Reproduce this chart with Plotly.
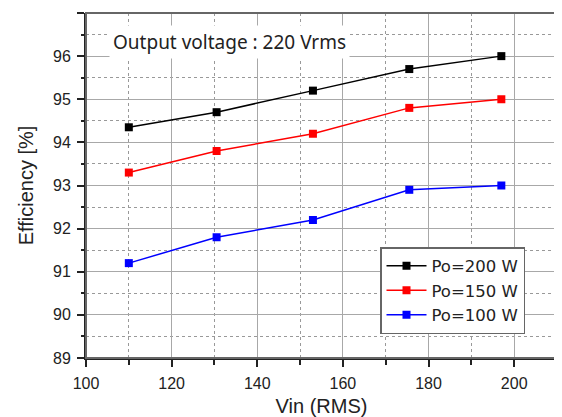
import plotly.graph_objects as go

vin = [110, 130.5, 153, 175.5, 197]
eff_200 = [94.35, 94.7, 95.2, 95.7, 96.0]
eff_150 = [93.3, 93.8, 94.2, 94.8, 95.0]
eff_100 = [91.2, 91.8, 92.2, 92.9, 93.0]
series_names = ["Po=200 W", "Po=150 W", "Po=100 W"]
series_colors = ["#000000", "#ff0000", "#0000ff"]

fig = go.Figure()
for name, ys, col in zip(series_names, [eff_200, eff_150, eff_100], series_colors):
    fig.add_trace(go.Scatter(
        x=vin, y=ys, name=name, mode="lines+markers",
        line=dict(color=col, width=1.5),
        marker=dict(symbol="square", size=8, color=col),
    ))

# page body has an 8px margin: figure sized so the plot area lands at x 86-557, y 13-358
PW, PH = 471, 345
axis_font = dict(family="Liberation Sans, Arial", size=16, color="#222")
title_font = dict(family="Liberation Sans, Arial", size=20, color="#222")
fig.update_layout(
    width=554, height=409,
    margin=dict(l=78, r=5, t=5, b=59),
    paper_bgcolor="white", plot_bgcolor="white",
    font=dict(family="Liberation Sans, Arial", color="#222"),
    showlegend=True,
    legend=dict(
        x=(380 - 86) / PW, y=(358 - 247) / PH, xanchor="left", yanchor="top",
        bgcolor="white", bordercolor="#666", borderwidth=1.5,
        font=dict(family="DejaVu Sans", size=16.5, color="#222"),
        itemwidth=40, tracegroupgap=0,
    ),
    xaxis=dict(
        range=[100, 210], tick0=100, dtick=20, automargin=False,
        showline=True, linecolor="#222", linewidth=2,
        ticks="outside", ticklen=7, tickcolor="#222", tickwidth=1.5,
        ticklabelstandoff=3,
        showgrid=True, gridcolor="#a8a8a8", gridwidth=1.3,
        zeroline=False, tickfont=axis_font,
        minor=dict(dtick=10, tick0=100, ticks="outside", ticklen=5, tickcolor="#222",
                   showgrid=True, gridcolor="#999999", griddash="dot", gridwidth=1),
        title=dict(text="Vin (RMS)", font=title_font, standoff=9),
    ),
    yaxis=dict(
        range=[89, 97], tick0=89, dtick=1, automargin=False,
        showline=True, linecolor="#222", linewidth=2,
        ticks="outside", ticklen=7, tickcolor="#222", tickwidth=1.5,
        ticklabelstandoff=3,
        showgrid=True, gridcolor="#a8a8a8", gridwidth=1.3,
        zeroline=False, tickfont=axis_font,
        minor=dict(dtick=0.5, tick0=89, ticks="outside", ticklen=3, tickcolor="#222",
                   showgrid=True, gridcolor="#999999", griddash="dot", gridwidth=1),
        title=dict(text="Efficiency [%]", font=title_font, standoff=14),
    ),
)

# gray frame (top / right)
fig.add_shape(type="rect", xref="paper", yref="paper", x0=0, y0=0, x1=1, y1=1,
              line=dict(color="#666", width=2), layer="above")

fig.add_annotation(
    xref="paper", yref="paper", x=(109 - 86) / PW, y=(358 - 42) / PH,
    xanchor="left", yanchor="middle",
    text="Output voltage : 220 Vrms", showarrow=False,
    font=dict(family="Noto Sans, Open Sans", size=19, color="#222"),
    bgcolor="white", borderpad=3,
)

fig.write_html("out.html")
